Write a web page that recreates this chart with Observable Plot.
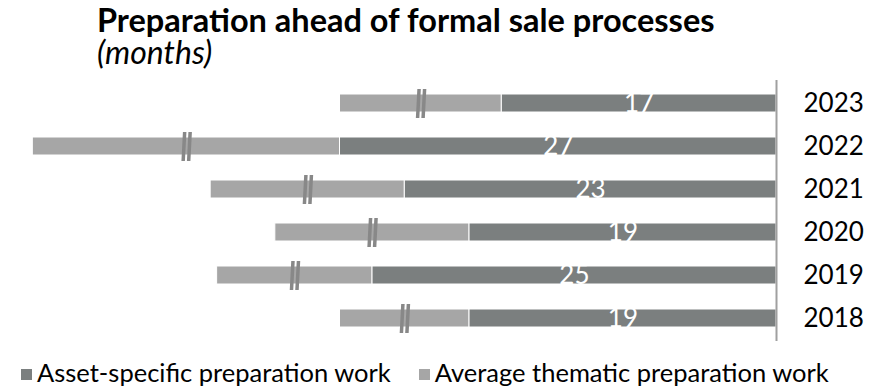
<!DOCTYPE html>
<html>
<head>
<meta charset="utf-8">
<script src="https://cdn.jsdelivr.net/npm/d3@7"></script>
<script src="https://cdn.jsdelivr.net/npm/@observablehq/plot@0.6"></script>
<style>
  html, body { margin: 0; padding: 0; background: #fff; }
  body { position: relative; width: 886px; height: 388px; overflow: hidden; font-family: Lato, "Open Sans", sans-serif; color: #000; }
  #title { position: absolute; left: 97px; top: 3.5px; font-size: 32.5px; font-weight: bold; line-height: 1; white-space: nowrap; }
  #subtitle { position: absolute; left: 97px; top: 35.5px; font-size: 32px; font-style: italic; line-height: 1; white-space: nowrap; }
  #chart { position: absolute; left: 0; top: 70px; }
  #legend { position: absolute; left: 21px; top: 360px; display: flex; align-items: flex-start; gap: 28px; }
  .item { display: flex; align-items: flex-start; }
  .leg { font-size: 25.5px; line-height: 1; white-space: nowrap; }
  .sw { width: 11px; height: 11px; margin-top: 9px; margin-right: 5px; }
</style>
</head>
<body>
<div id="title">Preparation ahead of formal sale processes</div>
<div id="subtitle">(months)</div>
<div id="chart"></div>
<div id="legend"></div>
<script>
const years = ["2023", "2022", "2021", "2020", "2019", "2018"];
const assetSpecific = [17, 27, 23, 19, 25, 19];
const thematic = [10, 19, 12, 12, 9.6, 8];
const seriesNames = ["Asset-specific preparation work", "Average thematic preparation work"];
const seriesColors = ["#7b7f7f", "#a6a6a6"];

const rows = years.map((y, i) => ({ year: y, asset: assetSpecific[i], thematic: thematic[i] }));

// "//" break symbol
const breakSymbol = {
  draw(ctx) {
    const t = -14.5, b = 14.5;
    ctx.moveTo(-5, b); ctx.lineTo(-1.5, b); ctx.lineTo(0, t); ctx.lineTo(-3.5, t); ctx.closePath();
    ctx.moveTo(0.5, b); ctx.lineTo(4, b); ctx.lineTo(5.5, t); ctx.lineTo(2, t); ctx.closePath();
  }
};

const plot = Plot.plot({
  width: 886,
  height: 275,
  marginTop: 10,
  marginBottom: 4,
  marginLeft: 0,
  marginRight: 110,
  style: { fontFamily: "Lato, sans-serif", fontSize: "26px", color: "#000", background: "transparent" },
  x: { domain: [0, 48], reverse: true, axis: null },
  y: { domain: years, paddingInner: 0.585, paddingOuter: 0.2925, axis: "right", tickSize: 0, tickPadding: 27, label: null },
  marks: [
    Plot.barX(rows, { y: "year", x1: 0, x2: "asset", fill: seriesColors[0], stroke: "white", strokeWidth: 1 }),
    Plot.barX(rows, { y: "year", x1: "asset", x2: d => d.asset + d.thematic, fill: seriesColors[1], stroke: "white", strokeWidth: 1 }),
    Plot.dot(rows, { y: "year", x: d => d.asset + d.thematic / 2, symbol: breakSymbol, fill: "#888888", stroke: "none" }),
    Plot.text(rows, { y: "year", x: d => d.asset / 2, text: d => String(d.asset), fill: "white", fontSize: 26 }),
    Plot.ruleX([0], { stroke: "#a0a0a0", strokeWidth: 2 })
  ]
});
document.getElementById("chart").appendChild(plot);

const legend = document.getElementById("legend");
seriesNames.forEach((name, i) => {
  const item = document.createElement("div");
  item.className = "item";
  const sw = document.createElement("div");
  sw.className = "sw"; sw.style.background = seriesColors[i];
  const tx = document.createElement("div");
  tx.className = "leg"; tx.textContent = name;
  item.appendChild(sw); item.appendChild(tx);
  legend.appendChild(item);
});
</script>
</body>
</html>
